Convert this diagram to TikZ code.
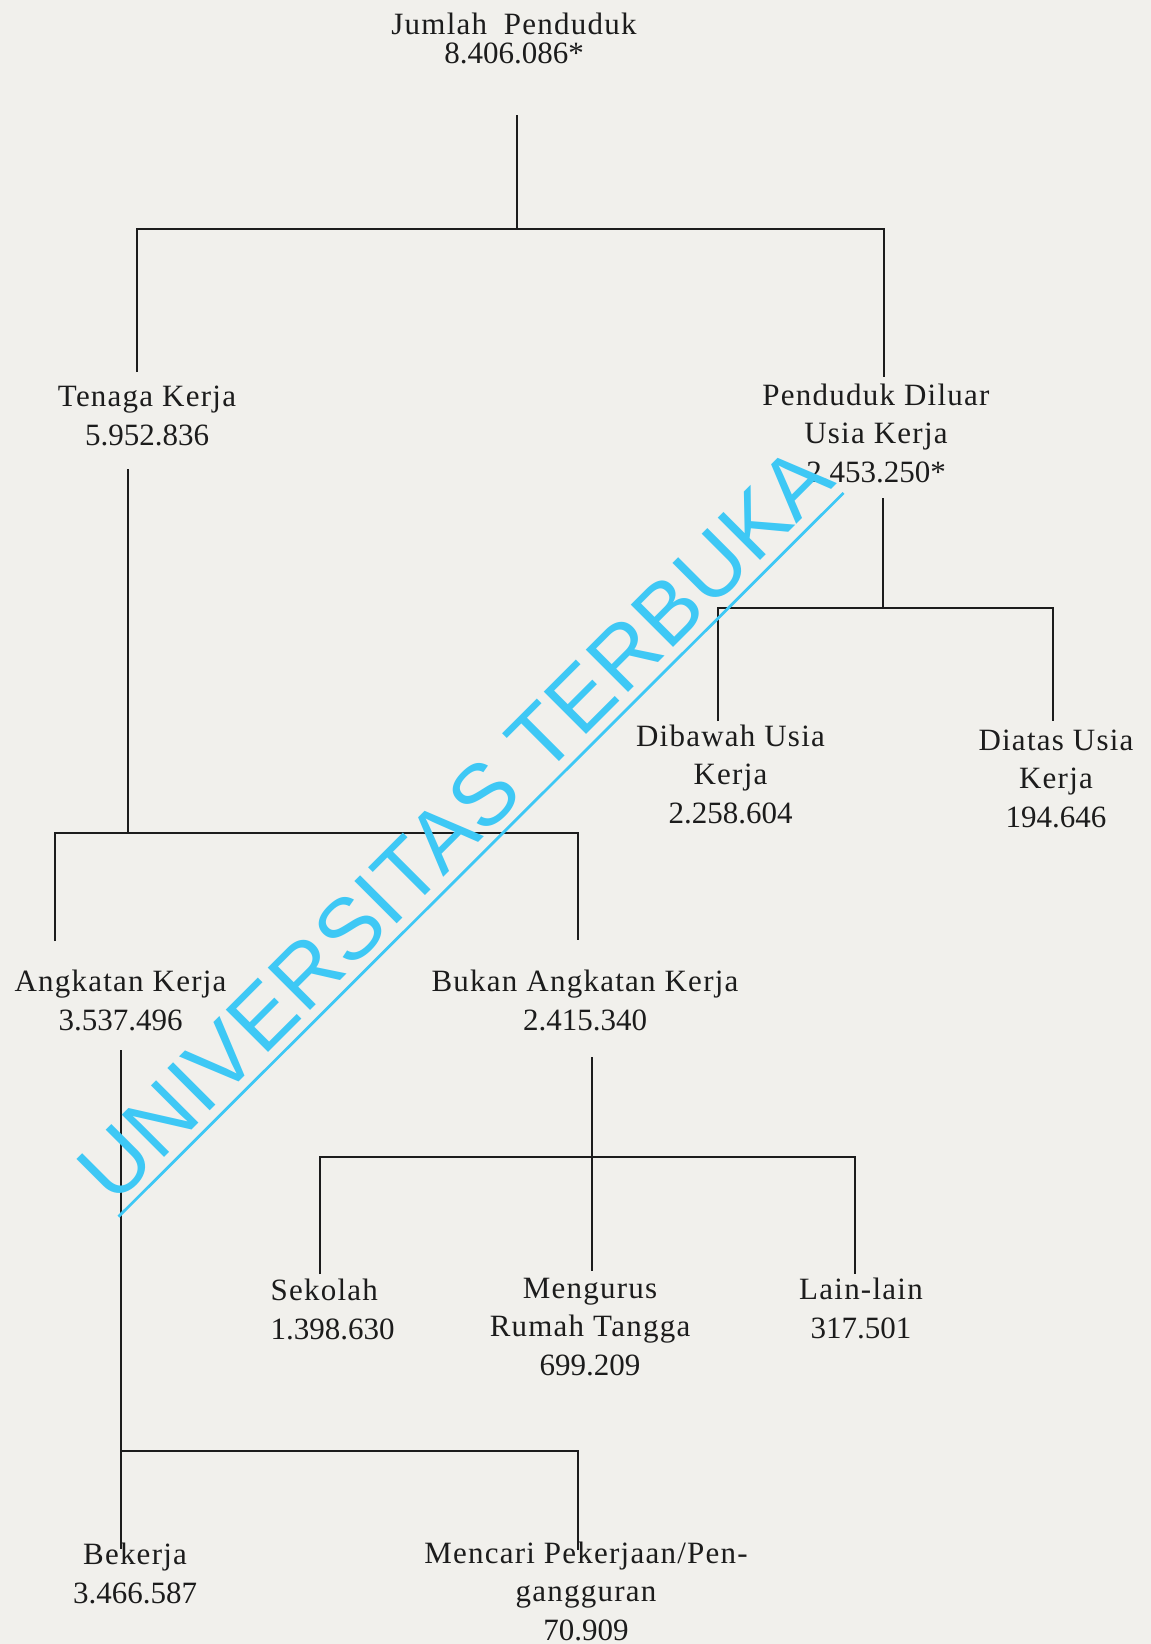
\documentclass[tikz,border=0pt]{standalone}
\usepackage{fontspec}
\setmainfont{Liberation Serif}
\newfontfamily\lsf[LetterSpace=4]{Liberation Serif}
\newfontfamily\wmf[LetterSpace=1]{Liberation Sans}
\definecolor{paper}{RGB}{241,240,236}
\definecolor{ink}{RGB}{28,28,28}
\definecolor{wmc}{RGB}{62,200,245}
\tikzset{
  lbl/.style={inner sep=0pt, anchor=base, align=center, text=ink, font=\fontsize{31}{38.5}\selectfont},
  conn/.style={draw=ink, line width=2pt},
  wmstyle/.style={inner sep=0pt, anchor=base west, rotate=45, text=wmc, font=\wmf\fontsize{87}{87}\selectfont},
  wmline/.style={draw=wmc, line width=2.8pt}
}
\begin{document}
\begin{tikzpicture}[x=1pt,y=-1pt]
\useasboundingbox (0,0) rectangle (1151,1644);
\fill[paper] (0,0) rectangle (1151,1644);
% labels (anchor = baseline of the last line)
\node[lbl, font=\fontsize{31}{29}\selectfont] (jp) at (514,63) {{\lsf Jumlah\hspace{0.25em} Penduduk}\\8.406.086*};
\node[lbl] (tk) at (147,445) {{\lsf Tenaga Kerja}\\5.952.836};
\node[lbl] (pdu) at (876,482) {{\lsf Penduduk Diluar}\\{\lsf Usia Kerja}\\2.453.250*};
\node[lbl] (dbw) at (730.5,823) {{\lsf Dibawah Usia}\\{\lsf Kerja}\\2.258.604};
\node[lbl] (dts) at (1056,827) {{\lsf Diatas Usia}\\{\lsf Kerja}\\194.646};
\node[lbl] (ak) at (120.5,1030) {{\lsf Angkatan Kerja}\\3.537.496};
\node[lbl] (bak) at (585,1030) {{\lsf Bukan Angkatan Kerja}\\2.415.340};
\node[lbl, align=left, anchor=base west] (sek) at (270.5,1339) {{\lsf Sekolah}\\1.398.630};
\node[lbl] (mrt) at (590,1375) {{\lsf Mengurus}\\{\lsf Rumah Tangga}\\699.209};
\node[lbl] (ll) at (861,1338) {{\lsf Lain-lain}\\317.501};
\node[lbl] (bek) at (135,1603) {{\lsf Bekerja}\\3.466.587};
\node[lbl] (mpp) at (586,1640) {{\lsf Mencari Pekerjaan/Pen-}\\{\lsf gangguran}\\70.909};
% connector points
\coordinate (a0) at (516.7,115);
\coordinate (a1) at (516.7,228.5);
\coordinate (aL) at (137,228.5);
\coordinate (aLb) at (137,372);
\coordinate (aR) at (884,228.5);
\coordinate (aRb) at (884,377);
\coordinate (b0) at (128,469);
\coordinate (b1) at (128,833);
\coordinate (bL) at (54.5,833);
\coordinate (bLb) at (54.5,941);
\coordinate (bR) at (578,833);
\coordinate (bRb) at (578,940);
\coordinate (c0) at (883,498);
\coordinate (c1) at (883,608);
\coordinate (cL) at (718,608);
\coordinate (cLb) at (718,721);
\coordinate (cR) at (1053,608);
\coordinate (cRb) at (1053,721);
\coordinate (d0) at (121,1050);
\coordinate (d1) at (121,1451);
\coordinate (dLb) at (121,1549);
\coordinate (dR) at (577.5,1451);
\coordinate (dRb) at (577.5,1550);
\coordinate (e0) at (592,1057);
\coordinate (e1) at (592,1157);
\coordinate (eMb) at (592,1271);
\coordinate (eL) at (320,1157);
\coordinate (eLb) at (320,1274);
\coordinate (eR) at (855,1157);
\coordinate (eRb) at (855,1274);
% connectors
\draw[conn] (a0) -- (a1);
\draw[conn] (aLb) -- (aL) -- (aR) -- (aRb);
\draw[conn] (b0) -- (b1);
\draw[conn] (bLb) -- (bL) -- (bR) -- (bRb);
\draw[conn] (c0) -- (c1);
\draw[conn] (cLb) -- (cL) -- (cR) -- (cRb);
\draw[conn] (d0) -- (dLb);
\draw[conn] (d1) -- (dR) -- (dRb);
\draw[conn] (e0) -- (eMb);
\draw[conn] (eLb) -- (eL) -- (eR) -- (eRb);
% watermark
\node[wmstyle] (wm) at (113.9,1207.1) {UNIVERSITAS TERBUKA};
\coordinate (u0) at (118.5,1216.7);
\coordinate (u1) at (843.5,493);
\draw[wmline] (u0) -- (u1);
\end{tikzpicture}
\end{document}
